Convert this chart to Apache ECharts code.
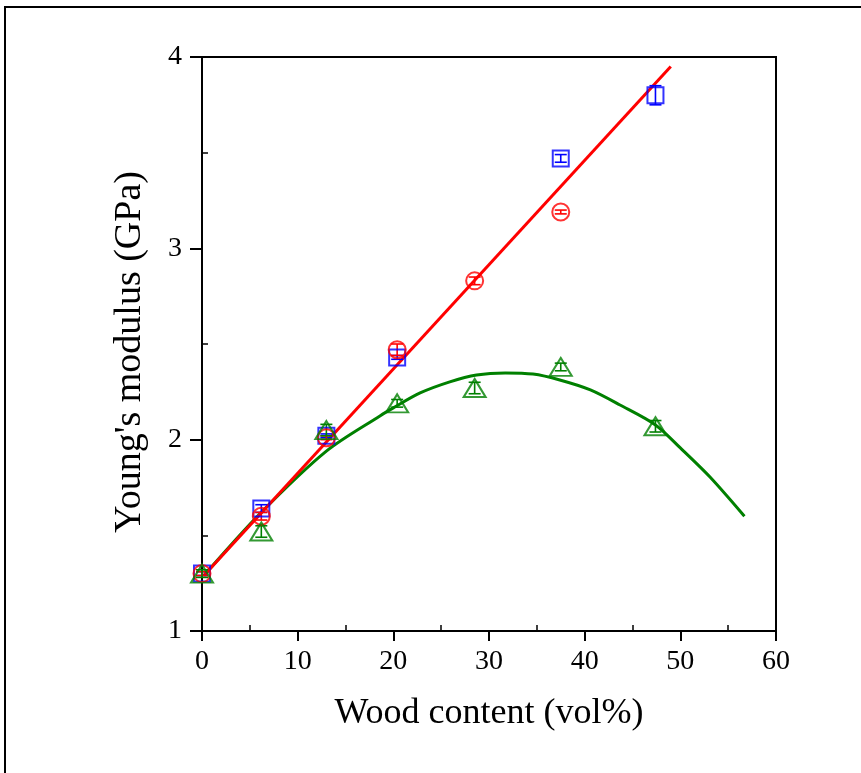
<!DOCTYPE html>
<html>
<head>
<meta charset="utf-8">
<script src="https://cdn.jsdelivr.net/npm/echarts@6/dist/echarts.min.js"></script>
<style>html,body{margin:0;padding:0;background:#fff;}#c{width:861px;height:773px;}</style>
</head>
<body>
<div id="c"></div>
<script>
// ---- data ----
const xTicks = [0, 10, 20, 30, 40, 50, 60];
const yTicks = [1, 2, 3, 4];
const xMinor = [5, 15, 25, 35, 45, 55];
const yMinor = [1.5, 2.5, 3.5];

const blueX = [0, 6.2, 13.0, 20.4, 37.5, 47.4];
const blueY = [1.30, 1.64, 2.02, 2.43, 3.47, 3.80];
const blueErr = [0.01, 0.02, 0.01, 0.01, 0.02, 0.05];

const redX = [0, 6.2, 13.0, 20.4, 28.5, 37.5];
const redY = [1.30, 1.60, 2.01, 2.47, 2.83, 3.19];
const redErr = [0.01, 0.02, 0.01, 0.03, 0.02, 0.01];

const greenX = [0, 6.2, 13.0, 20.4, 28.5, 37.5, 47.4];
const greenY = [1.30, 1.52, 2.05, 2.19, 2.27, 2.38, 2.07];
const greenErr = [0.02, 0.03, 0.03, 0.02, 0.03, 0.02, 0.03];

// linear fit line (red)
const redFitX = [0.2, 49.0];
const redFitY = [1.29, 3.95];

// curve (green)
const greenFitX = [0.2, 6.1, 13.0, 18.6, 20.0, 22.8, 25.9, 28.7, 31.7, 34.6, 37.4, 40.6, 43.7, 47.4, 50.0, 53.1, 56.7];
const greenFitY = [1.29, 1.615, 1.94, 2.124, 2.166, 2.244, 2.302, 2.338, 2.349, 2.343, 2.312, 2.260, 2.181, 2.077, 1.957, 1.805, 1.60];

const FONT = 'Liberation Serif';
const zip = (xs, ys) => xs.map((x, i) => [x, ys[i]]);
const zip3 = (xs, ys, es) => xs.map((x, i) => [x, ys[i], es[i]]);

function errRender(color) {
  return function (params, api) {
    const x = api.value(0), y = api.value(1), e = api.value(2);
    const t = api.coord([x, y + e]);
    const b = api.coord([x, y - e]);
    const w = 6;
    const st = { stroke: color, lineWidth: 1.6 };
    return {
      type: 'group',
      children: [
        { type: 'line', shape: { x1: t[0], y1: t[1], x2: b[0], y2: b[1] }, style: st },
        { type: 'line', shape: { x1: t[0] - w, y1: t[1], x2: t[0] + w, y2: t[1] }, style: st },
        { type: 'line', shape: { x1: b[0] - w, y1: b[1], x2: b[0] + w, y2: b[1] }, style: st }
      ]
    };
  };
}

const chart = echarts.init(document.getElementById('c'), null, { renderer: 'canvas' });
const axisText = { fontFamily: FONT, fontSize: 28, color: '#000' };

chart.setOption({
  animation: false,
  backgroundColor: '#fff',
  graphic: [{
    type: 'rect', shape: { x: 5, y: 7, width: 1000, height: 1000 },
    style: { fill: 'none', stroke: '#000', lineWidth: 2 }, silent: true, z: -1
  }],
  grid: { left: 202, top: 57, width: 574, height: 574, show: true, borderColor: '#000', borderWidth: 2, backgroundColor: 'transparent' },
  xAxis: [{
    type: 'value', min: 0, max: 60, interval: 10,
    axisLine: { show: true, onZero: false, lineStyle: { color: '#000', width: 2 } },
    axisTick: { show: true, inside: false, length: 10, lineStyle: { color: '#000', width: 2 }, customValues: xTicks },
    axisLabel: Object.assign({ margin: 17, customValues: xTicks }, axisText),
    splitLine: { show: false },
    name: 'Wood content (vol%)', nameLocation: 'middle', nameGap: 65,
    nameTextStyle: { fontFamily: FONT, fontSize: 36, color: '#000' }
  }, {
    type: 'value', min: 0, max: 60, position: 'bottom',
    axisLine: { show: false },
    axisTick: { show: true, inside: true, length: 6, lineStyle: { color: '#000', width: 1.5 }, customValues: xMinor },
    axisLabel: { show: false }, splitLine: { show: false }
  }],
  yAxis: [{
    type: 'value', min: 1, max: 4, interval: 1,
    axisLine: { show: true, onZero: false, lineStyle: { color: '#000', width: 2 } },
    axisTick: { show: true, inside: false, length: 12, lineStyle: { color: '#000', width: 2 }, customValues: yTicks },
    axisLabel: Object.assign({ margin: 20, customValues: yTicks }, axisText),
    splitLine: { show: false },
    name: "Young's modulus (GPa)", nameLocation: 'middle', nameGap: 53, nameRotate: 90,
    nameTextStyle: { fontFamily: FONT, fontSize: 38, color: '#000', padding: [0, 16, 0, 0] }
  }, {
    type: 'value', min: 1, max: 4, position: 'left',
    axisLine: { show: false },
    axisTick: { show: true, inside: true, length: 6, lineStyle: { color: '#000', width: 1.5 }, customValues: yMinor },
    axisLabel: { show: false }, splitLine: { show: false }
  }],
  series: [
    { type: 'line', data: zip(greenFitX, greenFitY), showSymbol: false, smooth: 0.3, lineStyle: { color: '#008000', width: 3 }, z: 2 },
    { type: 'line', data: zip(redFitX, redFitY), showSymbol: false, lineStyle: { color: '#ff0000', width: 3 }, z: 3 },
    { type: 'custom', data: zip3(blueX, blueY, blueErr), renderItem: errRender('#0000ff'), z: 4 },
    { type: 'custom', data: zip3(redX, redY, redErr), renderItem: errRender('#ff0000'), z: 4 },
    { type: 'custom', data: zip3(greenX, greenY, greenErr), renderItem: errRender('#008000'), z: 4 },
    { type: 'scatter', data: zip(blueX, blueY), symbol: 'rect', symbolSize: 16,
      itemStyle: { color: 'rgba(0,0,0,0)', borderColor: '#0000ff', borderWidth: 2 }, z: 5 },
    { type: 'scatter', data: zip(redX, redY), symbol: 'circle', symbolSize: 17,
      itemStyle: { color: 'rgba(0,0,0,0)', borderColor: '#ff0000', borderWidth: 2 }, z: 5 },
    { type: 'scatter', data: zip(greenX, greenY), symbol: 'triangle', symbolSize: [22, 18],
      itemStyle: { color: 'rgba(0,0,0,0)', borderColor: '#008000', borderWidth: 2 }, z: 5 }
  ]
});
</script>
</body>
</html>
